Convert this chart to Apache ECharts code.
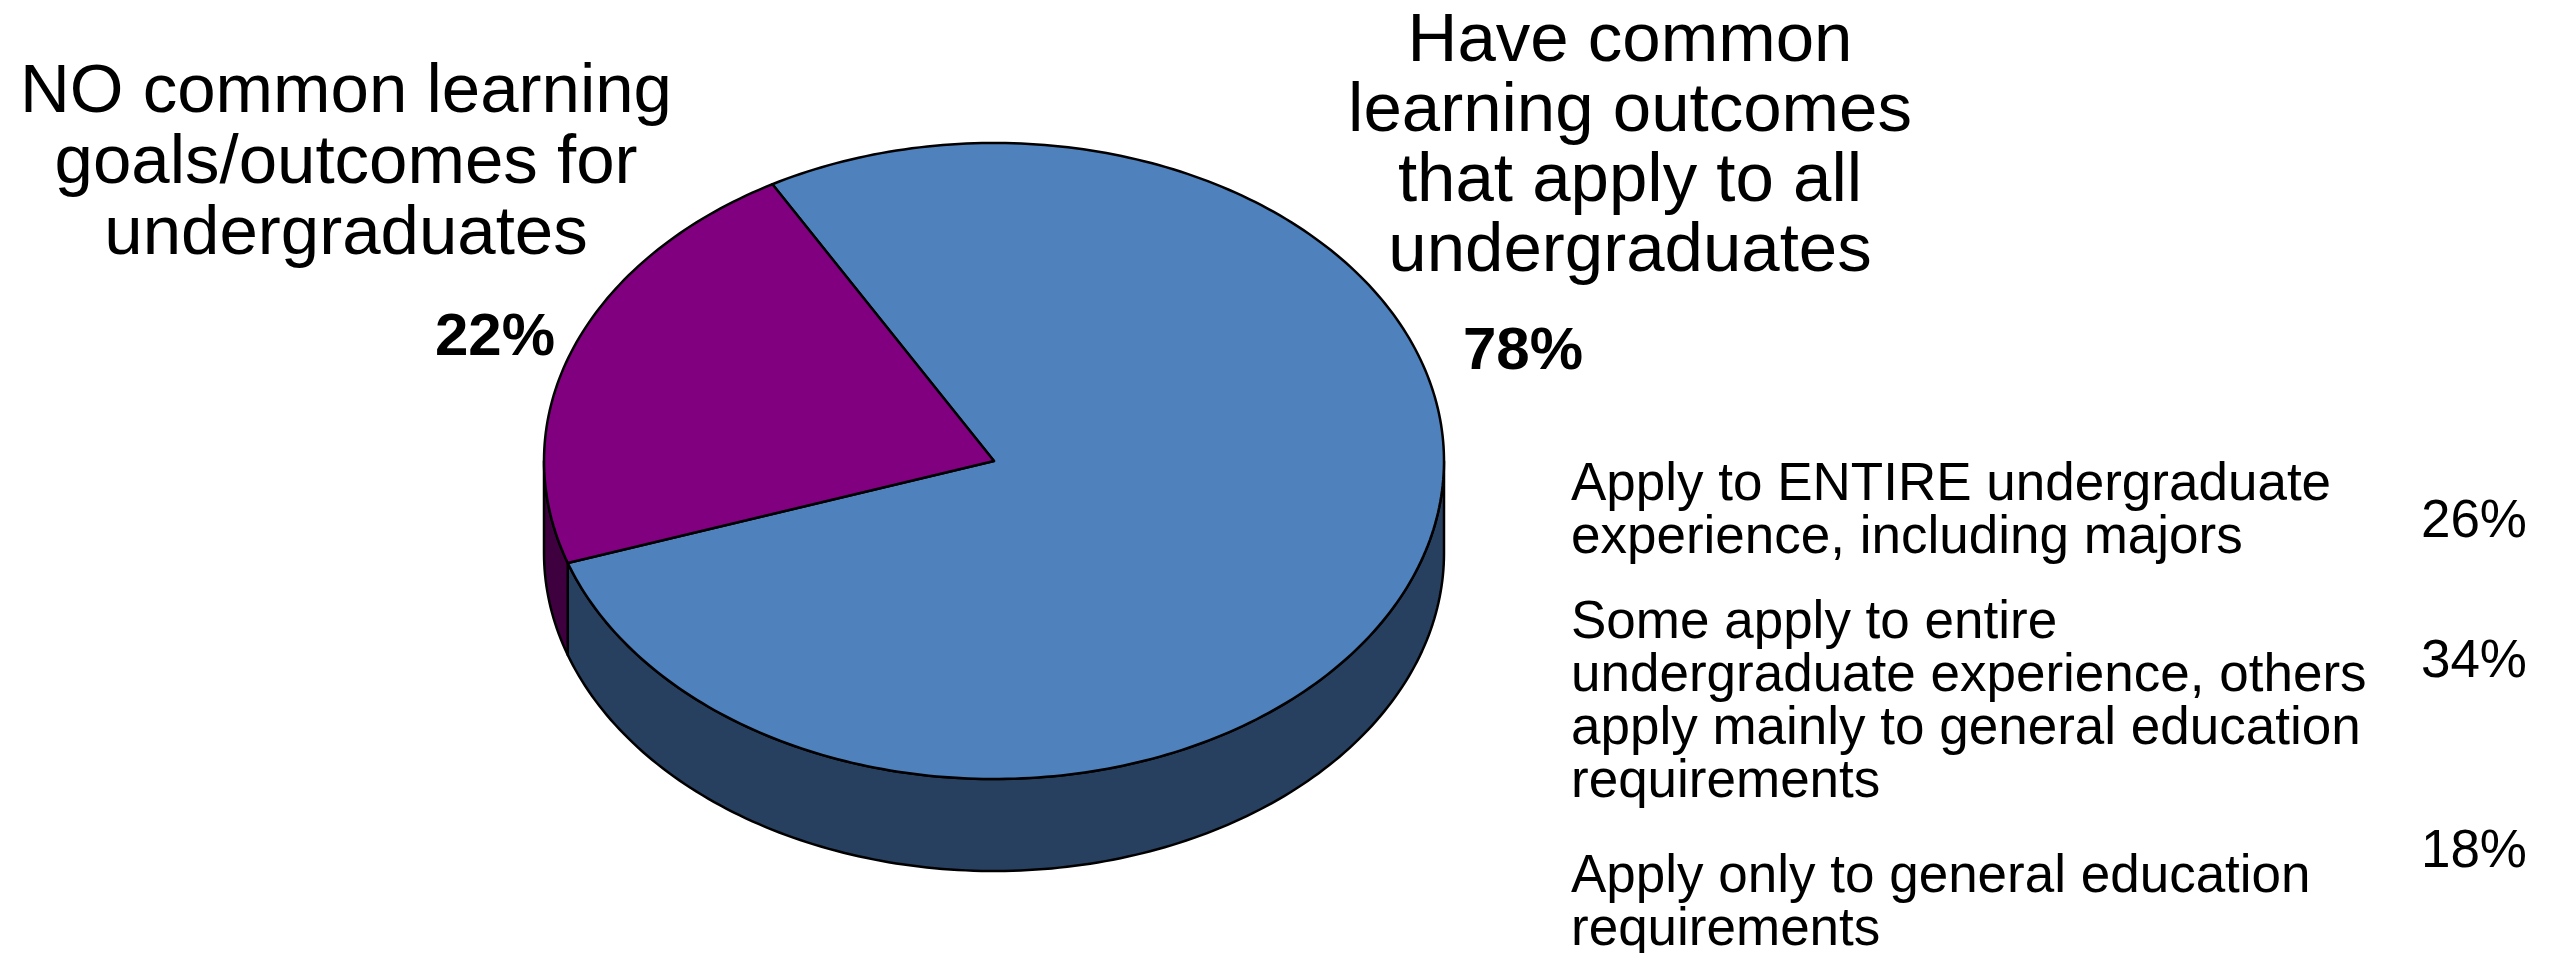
<!DOCTYPE html>
<html><head><meta charset="utf-8">
<script src="https://cdn.jsdelivr.net/npm/echarts@6/dist/echarts.min.js"></script>
<style>html,body{margin:0;padding:0;background:#fff}#c{width:2556px;height:953px}</style>
</head><body><div id="c"></div>
<script>
// ---- data ----
const categories = [
  'Have common\nlearning outcomes\nthat apply to all\nundergraduates',
  'NO common learning\ngoals/outcomes for\nundergraduates'
];
const mainValues = [78, 22];
const subLabels = [
  'Apply to ENTIRE undergraduate\nexperience, including majors',
  'Some apply to entire\nundergraduate experience, others\napply mainly to general education\nrequirements',
  'Apply only to general education\nrequirements'
];
const subValues = [26, 34, 18];

// ---- styling / layout ----
const topColors = ['#4F81BD', '#800080'];
const sideColors = ['#27405F', '#3F003F'];
const CX = 994, CY = 461, RX = 450, RY = 318, DEPTH = 92;
const START = -119.5; // screen degrees, clockwise
const FONT = "'Liberation Sans', Arial, Helvetica, sans-serif";
const total = mainValues.reduce((a, b) => a + b, 0);

function range(idx) {
  let s = START;
  for (let i = 0; i < idx; i++) s += mainValues[i] / total * 360;
  return [s, s + mainValues[idx] / total * 360];
}
function pt(deg, dy) {
  const r = deg * Math.PI / 180;
  return [CX + RX * Math.cos(r), CY + RY * Math.sin(r) + dy];
}
function arc(a0, a1, dy) {
  const n = Math.max(2, Math.ceil(Math.abs(a1 - a0)));
  const out = [];
  for (let i = 0; i <= n; i++) out.push(pt(a0 + (a1 - a0) * i / n, dy));
  return out;
}

function renderTop(params, api) {
  const idx = params.dataIndex;
  const v = api.value(0);
  const [a0] = range(idx);
  const a1 = a0 + v / total * 360;
  const pts = [[CX, CY]].concat(arc(a0, a1, 0));
  return {
    type: 'polygon',
    shape: { points: pts },
    style: { fill: topColors[idx], stroke: '#000', lineWidth: 2.5, lineJoin: 'round' }
  };
}
function renderSide(params, api) {
  const idx = params.dataIndex;
  const v = api.value(0);
  const [a0] = range(idx);
  const a1 = a0 + v / total * 360;
  const children = [];
  for (let k = -1; k <= 1; k++) {
    const lo = Math.max(a0, k * 360), hi = Math.min(a1, k * 360 + 180);
    if (hi > lo) {
      const pts = arc(lo, hi, 0).concat(arc(hi, lo, DEPTH));
      children.push({
        type: 'polygon',
        shape: { points: pts },
        style: { fill: sideColors[idx], stroke: '#000', lineWidth: 2.5, lineJoin: 'round' }
      });
    }
  }
  return { type: 'group', children: children };
}

const chart = echarts.init(document.getElementById('c'), null, { renderer: 'canvas' });

const texts = [];
// category titles
texts.push({ type: 'text', x: 1630, y: 147, style: { text: categories[0], font: '69px ' + FONT, lineHeight: 70, textAlign: 'center', textVerticalAlign: 'middle', fill: '#000' } });
texts.push({ type: 'text', x: 346, y: 164, style: { text: categories[1], font: '69px ' + FONT, lineHeight: 71, textAlign: 'center', textVerticalAlign: 'middle', fill: '#000' } });
// main percentages
texts.push({ type: 'text', x: 1463, y: 352, style: { text: mainValues[0] + '%', font: 'bold 60px ' + FONT, textAlign: 'left', textVerticalAlign: 'middle', fill: '#000' } });
texts.push({ type: 'text', x: 555, y: 338, style: { text: mainValues[1] + '%', font: 'bold 60px ' + FONT, textAlign: 'right', textVerticalAlign: 'middle', fill: '#000' } });
// sub breakdown
const subY = [512, 703, 904];
const subPctY = [522, 662, 852];
subLabels.forEach((t, i) => {
  texts.push({ type: 'text', x: 1571, y: subY[i], style: { text: t, font: '53px ' + FONT, lineHeight: 53, textAlign: 'left', textVerticalAlign: 'middle', fill: '#000' } });
  texts.push({ type: 'text', x: 2527, y: subPctY[i], style: { text: subValues[i] + '%', font: '53px ' + FONT, textAlign: 'right', textVerticalAlign: 'middle', fill: '#000' } });
});

chart.setOption({
  animation: false,
  backgroundColor: '#fff',
  series: [
    { type: 'custom', coordinateSystem: 'none', silent: true, z: 1, renderItem: renderSide, data: mainValues.map(v => [v]) },
    { type: 'custom', coordinateSystem: 'none', silent: true, z: 2, renderItem: renderTop, data: mainValues.map(v => [v]) }
  ],
  graphic: { elements: texts }
});
</script>
</body></html>
